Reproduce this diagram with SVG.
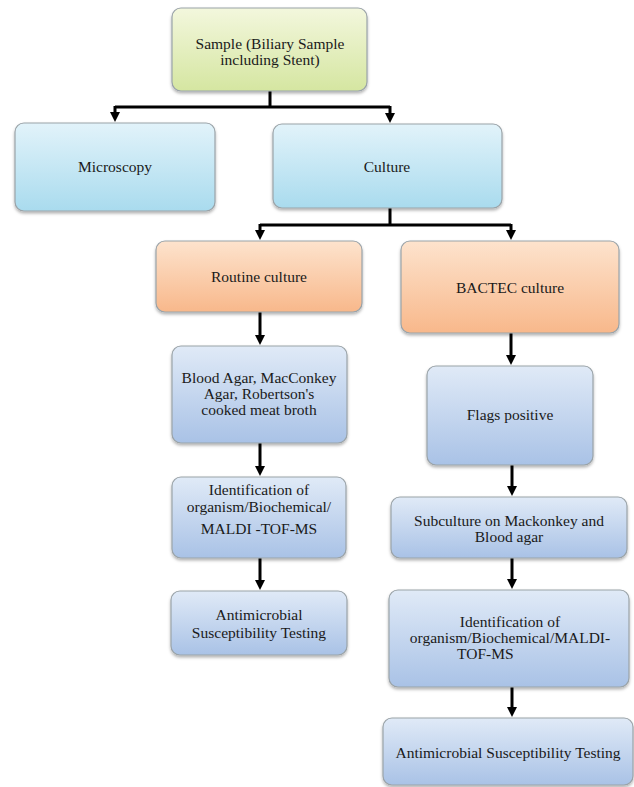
<svg xmlns="http://www.w3.org/2000/svg" width="634" height="787" viewBox="0 0 634 787">
<style>
.box{stroke:#9aa3a8;stroke-width:1.2;filter:url(#sh)}
.t{font-family:"Liberation Serif","Times New Roman",serif;font-size:15.5px;fill:#1a1a1a;text-anchor:middle}
.tl{font-family:"Liberation Serif","Times New Roman",serif;font-size:15.5px;fill:#1a1a1a}
.c{fill:none;stroke:#000;stroke-width:3}
.a{fill:none;stroke:#000;stroke-width:3;marker-end:url(#arr)}
</style>
<defs>
<marker id="arr" viewBox="0 0 10 10" refX="6" refY="5" markerWidth="10" markerHeight="10" markerUnits="userSpaceOnUse" orient="auto">
<path d="M0,0 L10,5 L0,10 z" fill="#000"/>
</marker>
<linearGradient id="gGreen" x1="0" y1="0" x2="0" y2="1">
<stop offset="0" stop-color="#f3f7dd"/><stop offset="1" stop-color="#d5e6a1"/>
</linearGradient>
<linearGradient id="gCyan" x1="0" y1="0" x2="0" y2="1">
<stop offset="0" stop-color="#e2f3fa"/><stop offset="1" stop-color="#a9dbee"/>
</linearGradient>
<linearGradient id="gOrange" x1="0" y1="0" x2="0" y2="1">
<stop offset="0" stop-color="#fde3cd"/><stop offset="1" stop-color="#f8b88b"/>
</linearGradient>
<linearGradient id="gBlue" x1="0" y1="0" x2="0" y2="1">
<stop offset="0" stop-color="#e0eaf7"/><stop offset="1" stop-color="#a9c2e6"/>
</linearGradient>
<filter id="sh" x="-10%" y="-10%" width="120%" height="130%">
<feDropShadow dx="0" dy="2" stdDeviation="1.5" flood-color="#000" flood-opacity="0.3"/>
</filter>
</defs>

<g id="connectors">
<path class="c" d="M270 91 V107 M115 107 H390 M390 208 V225 M260 225 H511"/>
<path class="a" d="M115 106 V118"/>
<path class="a" d="M390 106 V119"/>
<path class="a" d="M260 224 V236"/>
<path class="a" d="M511 224 V236"/>
<path class="a" d="M260 312 V341"/>
<path class="a" d="M260 443 V472"/>
<path class="a" d="M260 558 V586"/>
<path class="a" d="M511 333 V361"/>
<path class="a" d="M512 465 V492"/>
<path class="a" d="M512 558 V585"/>
<path class="a" d="M512 687 V713"/>
</g>

<g id="sample">
<rect class="box" x="172" y="8" width="195" height="83" rx="9" fill="url(#gGreen)"/>
<text class="t" x="270" y="49">Sample (Biliary Sample</text>
<text class="t" x="270" y="65">including Stent)</text>
</g>

<g id="microscopy">
<rect class="box" x="15" y="123" width="200" height="88" rx="9" fill="url(#gCyan)"/>
<text class="t" x="115" y="172">Microscopy</text>
</g>

<g id="culture">
<rect class="box" x="273" y="124" width="229" height="84" rx="9" fill="url(#gCyan)"/>
<text class="t" x="387" y="172">Culture</text>
</g>

<g id="routine">
<rect class="box" x="156" y="241" width="206" height="71" rx="9" fill="url(#gOrange)"/>
<text class="t" x="259" y="282">Routine culture</text>
</g>

<g id="bactec">
<rect class="box" x="401" y="241" width="218" height="92" rx="9" fill="url(#gOrange)"/>
<text class="t" x="510" y="293">BACTEC culture</text>
</g>

<g id="media">
<rect class="box" x="172" y="346" width="175" height="97" rx="9" fill="url(#gBlue)"/>
<text class="t" x="259" y="383">Blood Agar, MacConkey</text>
<text class="t" x="259" y="399">Agar, Robertson's</text>
<text class="t" x="259" y="415">cooked meat broth</text>
</g>

<g id="ident-left">
<rect class="box" x="172" y="477" width="174" height="81" rx="9" fill="url(#gBlue)"/>
<text class="t" x="259" y="495">Identification of</text>
<text class="t" x="259" y="512">organism/Biochemical/</text>
<text class="t" x="259" y="534">MALDI -TOF-MS</text>
</g>

<g id="ast-left">
<rect class="box" x="171" y="591" width="176" height="64" rx="9" fill="url(#gBlue)"/>
<text class="t" x="259" y="620">Antimicrobial</text>
<text class="t" x="259" y="638">Susceptibility Testing</text>
</g>

<g id="flags">
<rect class="box" x="427" y="366" width="166" height="99" rx="9" fill="url(#gBlue)"/>
<text class="t" x="510" y="420">Flags positive</text>
</g>

<g id="subculture">
<rect class="box" x="391" y="497" width="236" height="61" rx="9" fill="url(#gBlue)"/>
<text class="t" x="509" y="526">Subculture on Mackonkey and</text>
<text class="t" x="509" y="542">Blood agar</text>
</g>

<g id="ident-right">
<rect class="box" x="389" y="590" width="240" height="97" rx="9" fill="url(#gBlue)"/>
<text class="t" x="510" y="627">Identification of</text>
<text class="t" x="510" y="643">organism/Biochemical/MALDI-</text>
<text class="tl" x="457" y="659">TOF-MS</text>
</g>

<g id="ast-right">
<rect class="box" x="383" y="718" width="250" height="67" rx="9" fill="url(#gBlue)"/>
<text class="t" x="508" y="758">Antimicrobial Susceptibility Testing</text>
</g>
</svg>
